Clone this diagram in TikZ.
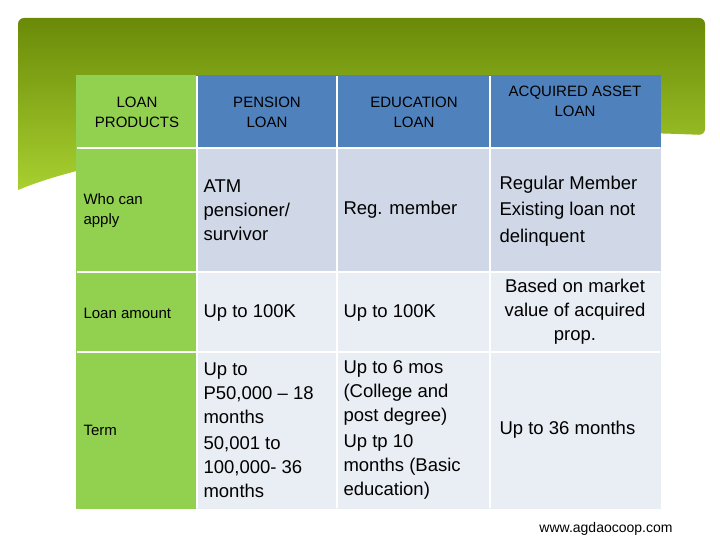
\documentclass[tikz,border=0pt]{standalone}
\usepackage{fontspec}
\setmainfont{Liberation Sans}
\begin{document}
\begin{tikzpicture}[x=1pt,y=-1pt,
  cell/.style={draw=white,line width=1.5pt},
  hdr/.style={font=\fontsize{15}{20}\selectfont,align=center},
  lab/.style={font=\fontsize{15}{20}\selectfont,align=left,anchor=west},
  txt/.style={font=\fontsize{18.5}{24}\selectfont,align=left,anchor=west}]
\definecolor{blu}{HTML}{4F81BD}
\definecolor{grn}{HTML}{92D050}
\definecolor{r1}{HTML}{D0D8E8}
\definecolor{r2}{HTML}{E9EDF4}
\definecolor{dk}{HTML}{6A8A08}
\definecolor{lt}{HTML}{A8D030}
\useasboundingbox (0,0) rectangle (720,540);
\fill[white] (0,0) rectangle (720,540);
\shade[top color=dk,bottom color=lt,rounded corners=6pt]
  (18,190) -- (18,18) -- (705,18) -- (705,135) [sharp corners] .. controls (450,125) and (150,135) .. (18,190);
\fill[cell,grn] (77,76) rectangle (197,148);
\fill[cell,blu] (197,76) rectangle (337,148);
\fill[cell,blu] (337,76) rectangle (490,148);
\fill[cell,blu] (490,76) rectangle (660,148);
\fill[cell,grn] (77,148) rectangle (197,272);
\fill[cell,r1] (197,148) rectangle (337,272);
\fill[cell,r1] (337,148) rectangle (490,272);
\fill[cell,r1] (490,148) rectangle (660,272);
\fill[cell,grn] (77,272) rectangle (197,352);
\fill[cell,r2] (197,272) rectangle (337,352);
\fill[cell,r2] (337,272) rectangle (490,352);
\fill[cell,r2] (490,272) rectangle (660,352);
\fill[cell,grn] (77,352) rectangle (197,508);
\fill[cell,r2] (197,352) rectangle (337,508);
\fill[cell,r2] (337,352) rectangle (490,508);
\fill[cell,r2] (490,352) rectangle (660,508);
\foreach \x in {197,337,490}{\draw[white,line width=1.5pt] (\x,76) -- (\x,508);}
\foreach \y in {148,272,352}{\draw[white,line width=1.5pt] (77,\y) -- (660,\y);}
\node[hdr] (h0) at (137,112) {LOAN\\PRODUCTS};
\node[hdr] (h1) at (267,112) {PENSION\\LOAN};
\node[hdr] (h2) at (414,112) {EDUCATION\\LOAN};
\node[hdr] (h3) at (575,101) {ACQUIRED ASSET\\LOAN};
\node[lab] (a0) at (80,211) {Who can\\apply};
\node[txt] (a1) at (200,210) {ATM\\pensioner/\\survivor};
\node[txt] (a2) at (340,210) {Reg. member};
\node[txt,font=\fontsize{18.5}{26.5}\selectfont] (a3) at (496,211) {Regular Member\\Existing loan not\\delinquent};
\node[lab] (b0) at (80,313) {Loan amount};
\node[txt] (b1) at (200,313) {Up to 100K};
\node[txt] (b2) at (340,313) {Up to 100K};
\node[txt,align=center,anchor=center] (b3) at (575,312) {Based on market\\value of acquired\\prop.};
\node[lab] (c0) at (80,430) {Term};
\node[txt,align=left] (c1) at (200,430) {Up to\\P50,000 – 18\\months\\[2pt]50,001 to\\100,000- 36\\months};
\node[txt,align=left] (c2) at (340,430) {Up to 6 mos\\(College and\\post degree)\\[2pt]Up tp 10\\months (Basic\\education)};
\node[txt] (c3) at (496,430) {Up to 36 months};
\node[font=\fontsize{14}{16}\selectfont] (w) at (606,529) {www.agdaocoop.com};
\end{tikzpicture}
\end{document}
